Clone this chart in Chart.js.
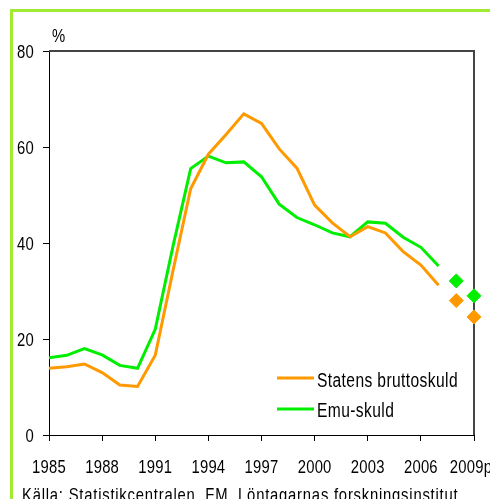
<!DOCTYPE html>
<html>
<head>
<meta charset="utf-8">
<script src="https://cdn.jsdelivr.net/npm/chart.js@4/dist/chart.umd.min.js"></script>
<style>
  html, body { margin: 0; padding: 0; overflow: hidden; background: #fff; }
  #frame { position: absolute; left: 10px; top: 9px; width: 600px; height: 600px; border: 3px solid #a2ea32; }
  #wrap { position: absolute; left: 0; top: 0; width: 520px; height: 520px; }
</style>
</head>
<body>
<div id="frame"></div>
<div id="wrap"><canvas id="debtChart" width="520" height="520"></canvas></div>
<script>
// data (% of GDP)
var years = [1985, 1986, 1987, 1988, 1989, 1990, 1991, 1992, 1993, 1994, 1995, 1996,
  1997, 1998, 1999, 2000, 2001, 2002, 2003, 2004, 2005, 2006, 2007]
var brutto = [13.9, 14.2, 14.8, 13.0, 10.4, 10.1, 16.6, 34.2, 51.3, 58.5, 62.6, 66.9,
  64.9, 59.6, 55.6, 47.9, 44.2, 41.3, 43.4, 42.1, 38.2, 35.4, 31.2]
var emu = [16.1, 16.6, 18.0, 16.7, 14.5, 13.9, 22.0, 39.3, 55.5, 58.1, 56.7, 56.9,
  53.8, 48.1, 45.3, 43.8, 42.1, 41.3, 44.4, 44.1, 41.2, 39.1, 35.2]
var forecastYears = [2008, 2009]
var bruttoForecast = [28.0, 24.6]
var emuForecast = [32.1, 29.0]
var xTicks = [1985, 1988, 1991, 1994, 1997, 2000, 2003, 2006, 2009]
var yTicks = [0, 20, 40, 60, 80]
var seriesNames = ['Statens bruttoskuld', 'Emu-skuld']
var sourceText = 'Källa: Statistikcentralen, FM, Löntagarnas forskningsinstitut'

var ORANGE = '#ff9900'
var GREEN = '#00ee00'
var FONT = 'Liberation Sans, Arial, sans-serif'
var SQUEEZE = 0.78 // the original font is a narrow one

function toPoints (xs, ys) {
  return xs.map(function (x, i) { return { x: x, y: ys[i] } })
}

// narrow text: normal font squeezed horizontally
function narrowText (ctx, text, x, y, align, size, spacing) {
  ctx.save()
  ctx.translate(x, y)
  ctx.scale(SQUEEZE, 1)
  ctx.font = size + 'px ' + FONT
  ctx.fillStyle = '#000'
  ctx.textAlign = align
  ctx.textBaseline = 'alphabetic'
  ctx.letterSpacing = (spacing || 0) + 'px'
  ctx.fillText(text, 0, 0)
  ctx.restore()
}

// tick labels, plot box, % label, legend and source line
var extras = {
  id: 'extras',
  beforeDatasetsDraw: function (chart) {
    // top and right edges of the plot box
    var ctx = chart.ctx
    var a = chart.chartArea
    ctx.save()
    ctx.fillStyle = '#444'
    ctx.fillRect(a.left, a.top - 1, a.right - a.left + 1, 2)
    ctx.fillRect(a.right - 1, a.top - 1, 2, a.bottom - a.top + 1)
    ctx.restore()
  },
  afterDraw: function (chart) {
    var ctx = chart.ctx
    var xs = chart.scales.x
    var ys = chart.scales.y

    xTicks.forEach(function (v) {
      var label = v === 2009 ? '2009p' : String(v)
      var px = xs.getPixelForValue(v)
      if (v === 2009) px -= 3
      narrowText(ctx, label, px, 473, 'center', 19, 0.3)
    })
    yTicks.forEach(function (v) {
      narrowText(ctx, String(v), 34, ys.getPixelForValue(v) + 7, 'right', 19, 0.3)
    })

    narrowText(ctx, '%', 52, 42, 'left', 19, 0)

    // legend
    var rows = [[ORANGE, seriesNames[0], 378, 387], [GREEN, seriesNames[1], 409, 417]]
    rows.forEach(function (r) {
      ctx.save()
      ctx.strokeStyle = r[0]
      ctx.lineWidth = 3
      ctx.beginPath()
      ctx.moveTo(277, r[2])
      ctx.lineTo(314, r[2])
      ctx.stroke()
      ctx.restore()
      narrowText(ctx, r[1], 317, r[3], 'left', 20, 0.5)
    })

    narrowText(ctx, sourceText, 22, 501, 'left', 19, 1)
  }
}

var ctx = document.getElementById('debtChart').getContext('2d')
var debtChart = new Chart(ctx, {
  type: 'line',
  data: {
    datasets: [
      { label: seriesNames[0], data: toPoints(years, brutto), borderColor: ORANGE, borderWidth: 3, pointRadius: 0, tension: 0 },
      { label: seriesNames[1], data: toPoints(years, emu), borderColor: GREEN, borderWidth: 3, pointRadius: 0, tension: 0 },
      { label: 'brutto p', data: toPoints(forecastYears, bruttoForecast), showLine: false, clip: false, pointStyle: 'rectRot', pointRadius: 7, backgroundColor: ORANGE, borderColor: ORANGE, borderWidth: 1 },
      { label: 'emu p', data: toPoints(forecastYears, emuForecast), showLine: false, clip: false, pointStyle: 'rectRot', pointRadius: 7, backgroundColor: GREEN, borderColor: GREEN, borderWidth: 1 }
    ]
  },
  options: {
    responsive: false,
    animation: false,
    layout: { padding: { left: 0, top: 51, right: 46, bottom: 0 } },
    scales: {
      x: {
        type: 'linear',
        min: 1985,
        max: 2009,
        afterBuildTicks: function (scale) {
          scale.ticks = xTicks.map(function (v) { return { value: v } })
        },
        afterFit: function (scale) { scale.height = 85 },
        border: { color: '#000', width: 1 },
        grid: { drawOnChartArea: false, tickLength: 6, color: '#000' },
        ticks: { display: false }
      },
      y: {
        min: 0,
        max: 80,
        afterBuildTicks: function (scale) {
          scale.ticks = yTicks.map(function (v) { return { value: v } })
        },
        afterFit: function (scale) { scale.width = 49 },
        border: { color: '#000', width: 1 },
        grid: { drawOnChartArea: false, tickLength: 6, color: '#000' },
        ticks: { display: false }
      }
    },
    plugins: {
      legend: { display: false },
      tooltip: { enabled: false }
    }
  },
  plugins: [extras]
})
</script>
</body>
</html>
